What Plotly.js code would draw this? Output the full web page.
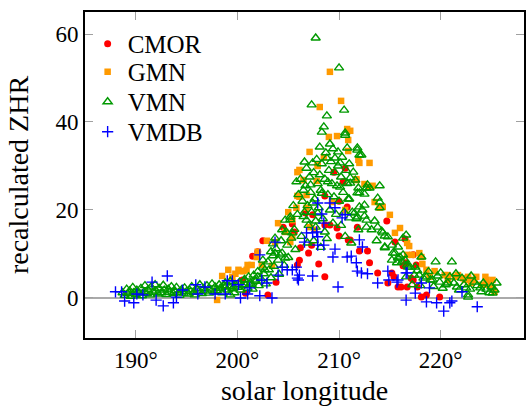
<!DOCTYPE html>
<html>
<head>
<meta charset="utf-8">
<script src="https://cdn.plot.ly/plotly-3.0.1.min.js"></script>
<style>html,body{margin:0;padding:0;background:#fff;}#chart{width:527px;height:406px;}</style>
</head>
<body>
<div id="chart"></div>
<script>
// ---- data (solar longitude in degrees, recalculated ZHR) ----
const seriesNames = ['CMOR', 'GMN', 'VMN', 'VMDB'];

const cmorX = [201.5,202.0,202.5,200.8,203.0,203.8,200.5,204.5,205.4,205.6,205.9,206.2,206.7,207.0,207.3,207.4,208.0,208.6,208.6,209.1,209.5,209.8,210.0,210.0,210.4,210.6,210.8,210.9,211.1,211.8,212.0,212.8,213.0,213.8,214.7,214.8,215.2,215.4,215.5,215.8,216.1,216.3,216.5,216.6,216.7,217.1,217.3,217.3,217.6,217.7,218.1,218.6,219.9,208.6,206.1];
const cmorY = [9.5,10.5,13.0,1.1,0.7,3.6,4.1,16.1,16.8,15.0,7.5,11.4,19.3,10.2,12.0,18.9,7.7,23.2,16.6,16.6,28.6,15.9,14.1,22.0,26.4,29.5,20.7,13.2,13.2,16.1,10.7,10.7,8.0,5.7,17.5,3.4,5.7,4.8,12.7,2.5,2.5,7.3,13.4,8.0,2.5,4.5,9.8,4.1,7.5,2.5,0.2,0.7,0.2,4.8,8.6];

const gmnX = [198.0,198.5,199.1,199.5,199.8,200.1,200.3,200.6,200.9,201.0,201.4,201.9,202.0,202.4,202.9,203.4,203.7,204.0,204.7,205.0,205.2,205.4,205.4,205.8,205.9,205.9,206.1,206.1,206.5,206.8,206.8,207.1,207.1,207.6,207.8,207.9,207.9,208.1,208.5,209.0,209.1,209.3,209.8,210.2,210.6,210.8,210.9,210.9,211.1,211.7,211.7,211.9,212.0,212.5,213.0,213.0,213.3,213.5,214.0,214.3,215.0,215.5,216.0,216.7,216.7,216.9,217.2,217.9,218.1,218.2,218.6,218.9,219.4,220.4,220.7,220.7,221.4,221.7,222.2,222.4,222.7,223.0,223.3,223.5,224.0,224.4,224.5,224.6,225.1,225.1,225.3];
const gmnY = [-0.45,5.0,6.4,4.8,5.5,6.4,6.1,6.1,6.4,7.5,7.5,9.3,10.5,7.5,13.0,7.3,12.7,17.0,15.0,19.5,12.7,17.7,13.9,20.5,28.6,23.2,29.1,23.0,26.8,23.4,20.5,33.2,16.1,15.5,26.6,30.2,30.0,43.4,32.0,36.6,51.4,21.8,36.8,44.8,20.0,38.4,35.9,33.4,38.0,27.0,26.8,31.4,30.7,25.9,30.7,25.2,25.5,21.8,20.5,20.7,18.9,14.8,15.9,12.5,9.8,11.8,9.8,10.2,9.3,7.7,6.4,4.8,6.1,5.2,5.2,4.1,4.8,5.2,4.5,4.1,4.8,3.4,4.1,4.8,3.0,4.8,4.1,3.0,4.1,2.3,1.4];

const vmnX = [188.7,188.9,189.1,189.2,189.4,189.5,189.7,189.8,190.0,190.1,190.3,190.5,190.6,190.8,190.9,191.1,191.2,191.4,191.5,191.7,191.9,192.0,192.2,192.3,192.5,192.7,192.8,193.0,193.2,193.3,193.5,193.7,193.8,194.0,194.2,194.3,194.5,194.7,194.8,195.0,195.2,195.3,195.5,195.7,195.8,196.0,196.2,196.3,196.5,196.7,196.8,197.0,197.2,197.3,197.5,197.7,197.8,198.0,198.2,198.3,198.5,198.7,198.8,199.0,199.2,199.3,199.5,199.7,199.8,200.0,
200.2,200.3,200.5,200.7,200.8,201.0,201.1,201.3,201.5,201.6,201.8,202.0,202.1,202.3,202.5,202.6,202.8,203.0,203.1,203.3,203.5,203.6,203.8,204.0,204.1,204.3,204.4,204.6,204.8,204.9,205.0,205.2,205.3,205.5,205.6,205.7,205.8,205.9,206.0,
205.2,204.7,204.4,205.4,203.7,203.5,203.3,203.7,204.2,204.7,202.5,202.7,202.0,201.7,201.4,200.7,199.6,199.3,198.8,
207.7,210.0,207.3,210.5,208.8,208.5,208.3,210.6,208.1,209.1,209.4,209.9,210.8,206.6,207.4,208.8,209.6,210.1,211.8,212.2,
206.2,206.4,206.5,206.7,206.8,206.9,207.0,207.1,207.2,207.3,207.5,207.6,207.7,207.8,207.9,208.0,208.1,208.2,208.3,208.4,208.6,208.7,208.9,209.0,209.1,209.2,209.3,209.5,209.6,209.7,209.8,209.9,210.0,210.2,210.3,210.4,210.5,210.7,210.8,210.9,211.0,
206.5,207.2,208.3,208.9,210.1,211.1,211.8,212.8,213.8,214.0,212.5,211.3,211.8,212.7,213.2,213.8,214.3,214.8,215.2,215.8,214.5,215.3,215.8,216.2,216.7,217.0,217.5,218.1,219.5,221.1,217.9,218.6,219.2,219.9,220.7,221.6,222.7,223.9,224.5,225.0,225.1,225.5,206.6,207.4,207.9,206.8,207.7,208.6,
210.6,211.8,212.0,214.0,211.4,211.1,211.6,210.8,212.7,213.0,211.9,212.0,212.5,211.0,214.0,212.0,212.3,211.5,211.0,211.7,212.5,213.5,214.2,212.7,211.9,214.5,213.7,216.3,214.5,215.5,216.0,216.5,216.8,215.2,215.7,
216.6,216.3,216.6,217.4,218.3,219.0,220.0,220.5,221.3,222.1,222.5,223.3,224.0,225.3,222.7,
217.2,217.7,218.0,218.8,219.3,219.7,220.2,220.9,221.5,221.8,222.3,222.9,223.6,224.2,224.8,223.0,
206.3,206.9,207.5,208.2,208.8,209.4,210.2,210.6,211.2];
const vmnY = [1.2,0.6,2.0,1.0,1.6,0.4,2.4,1.2,0.8,1.8,1.1,2.2,0.5,1.4,2.8,1.0,1.9,0.7,2.5,1.3,3.0,1.6,0.9,2.2,1.2,2.9,1.8,0.8,2.0,1.3,2.6,1.0,1.7,2.4,1.2,0.6,1.9,1.1,2.3,1.5,0.9,1.8,2.6,1.3,0.7,2.1,1.5,3.0,1.0,2.2,1.6,2.8,1.1,2.0,3.2,1.4,2.5,1.7,3.0,2.2,1.2,2.8,3.4,1.8,2.6,3.8,2.1,1.2,3.0,2.4,
3.6,1.8,2.8,4.2,3.0,2.2,4.8,3.4,2.0,5.2,3.8,6.0,2.8,4.4,7.0,5.5,3.2,8.2,6.4,4.6,9.6,7.2,11.2,8.6,5.4,13.0,10.2,7.4,15.0,12.0,9.2,17.8,13.6,21.0,15.6,11.0,26.4,19.0,23.5,
18.4,17.7,15.5,14.8,13.6,12.3,10.5,10.2,9.8,9.1,8.6,6.4,4.8,4.1,3.0,4.1,2.3,0.7,2.5,
59.1,52.3,43.9,42.7,41.4,38.9,37.7,37.0,34.3,35.0,33.9,33.2,34.1,30.9,30.7,31.8,31.8,30.7,34.1,32.5,
27.0,22.0,18.5,25.5,29.5,21.0,16.5,27.5,24.0,19.5,28.5,22.5,17.5,31.5,26.0,20.5,28.0,24.5,30.5,18.0,27.0,33.0,23.5,29.0,20.0,31.0,26.0,23.0,28.5,19.0,25.5,30.0,22.0,27.5,32.0,24.0,19.5,29.0,26.0,22.5,30.5,
24.5,25.7,23.8,26.4,25.2,26.1,23.9,25.7,22.7,20.5,21.1,19.5,18.4,17.7,15.5,16.1,14.8,13.9,12.0,11.6,11.4,10.2,9.1,8.2,7.5,7.0,7.0,9.3,8.2,8.2,5.2,4.8,4.1,3.6,3.4,2.5,0.7,2.3,2.0,2.5,1.1,3.4,19.5,21.6,19.3,17.7,16.1,15.0,
37.5,33.6,32.5,25.5,28.6,27.3,26.8,26.1,25.0,25.0,25.0,23.9,23.6,22.5,21.8,20.7,20.0,19.3,18.2,18.0,18.6,17.5,15.2,16.1,15.5,14.1,13.0,13.6,11.6,10.2,9.3,8.6,7.0,8.6,8.0,
14.3,9.8,4.8,5.2,4.5,4.1,5.7,3.0,3.4,4.5,2.3,3.6,1.4,1.8,0.2,
3.0,6.2,2.8,6.0,2.6,5.0,2.2,4.8,5.5,1.8,3.0,2.0,2.8,3.4,1.2,5.0,
14.0,12.5,13.0,11.5,13.5,17.0,16.5,14.0,12.5];

const vmdbX = [188.0,188.6,188.9,189.8,190.1,190.7,191.6,192.0,193.1,192.7,193.7,194.0,194.6,195.9,196.1,196.8,197.8,198.8,199.0,199.5,
200.1,200.3,201.2,201.0,202.2,202.2,202.4,202.9,203.4,203.7,204.0,204.4,204.9,205.4,205.8,205.9,
207.9,208.3,209.1,209.6,208.5,207.8,206.8,207.4,206.6,207.9,207.9,208.5,209.6,209.4,210.8,210.3,210.6,207.4,206.1,206.0,209.9,
212.0,212.3,211.2,211.7,211.8,212.2,212.8,213.8,214.8,214.9,215.7,215.8,216.6,216.6,
216.7,217.5,218.1,218.6,218.9,219.6,220.3,220.9,221.1,222.1,223.6];
const vmdbY = [1.4,1.4,-0.7,-1.1,0.9,0.7,3.6,-0.5,5.0,-1.8,-1.1,0.2,1.8,3.0,0.9,2.5,0.9,0.9,3.9,3.9,
3.0,0.0,2.3,0.9,0.5,9.8,4.1,3.4,0.0,12.7,5.2,7.0,6.4,6.4,7.0,4.5,
21.6,19.1,21.6,20.5,17.0,15.0,14.8,14.8,12.7,13.9,12.0,12.0,11.1,9.3,9.3,18.2,18.9,5.0,5.2,4.1,2.5,
13.2,11.6,9.5,8.0,6.1,5.7,5.5,3.4,6.1,4.1,3.6,4.1,5.7,-0.5,
5.7,1.1,3.4,-0.9,2.3,-1.1,-3.0,-1.1,-0.7,1.4,-2.0];

// ---- axis ticks ----
const xTickVals = [190, 200, 210, 220];
const xTickText = ['190°', '200°', '210°', '220°'];
const yTickVals = [0, 20, 40, 60];
const yTickText = ['0', '20', '40', '60'];

const FONT = 'Liberation Serif, Times New Roman, serif';

const traces = [
  {x: cmorX, y: cmorY, name: seriesNames[0], type: 'scatter', mode: 'markers', legend: 'legend',
   marker: {symbol: 'circle', size: 7, color: '#ff0000', line: {width: 0}}},
  {x: gmnX, y: gmnY, name: seriesNames[1], type: 'scatter', mode: 'markers', legend: 'legend2',
   marker: {symbol: 'square', size: 6.5, color: '#ff9a00', line: {width: 0}}},
  {x: vmnX, y: vmnY, name: seriesNames[2], type: 'scatter', mode: 'markers', legend: 'legend3',
   marker: {symbol: 'triangle-up-open', size: 8, color: '#009900', line: {width: 1.4, color: '#009900'}}},
  {x: vmdbX, y: vmdbY, name: seriesNames[3], type: 'scatter', mode: 'markers', legend: 'legend4',
   marker: {symbol: 'cross-thin-open', size: 8, color: '#0000ff', line: {width: 1.4, color: '#0000ff'}}}
];

function legendAt(yc) {
  return {x: 0.006, y: yc, xanchor: 'left', yanchor: 'middle', bgcolor: 'rgba(0,0,0,0)',
          font: {family: FONT, size: 25, color: '#000'}, itemwidth: 30};
}

const layout = {
  width: 527, height: 406,
  margin: {l: 85, r: 3, t: 12, b: 68},
  paper_bgcolor: '#ffffff', plot_bgcolor: '#ffffff',
  font: {family: FONT, size: 23, color: '#000'},
  showlegend: true,
  legend: legendAt(0.902),
  legend2: legendAt(0.816),
  legend3: legendAt(0.724),
  legend4: legendAt(0.632),
  xaxis: {
    range: [185.0, 228.2], tickvals: xTickVals, ticktext: xTickText,
    ticks: 'inside', ticklen: 8, tickwidth: 1, tickcolor: '#a0a0a0',
    showline: true, linecolor: '#000', linewidth: 2, mirror: 'ticks',
    showgrid: false, zeroline: false,
    tickfont: {family: FONT, size: 23, color: '#000'},
    title: {text: 'solar longitude', font: {family: FONT, size: 28, color: '#000'}, standoff: 12}
  },
  yaxis: {
    range: [-9.1, 65], tickvals: yTickVals, ticktext: yTickText,
    ticks: 'inside', ticklen: 8, tickwidth: 1, tickcolor: '#a0a0a0',
    showline: true, linecolor: '#000', linewidth: 2, mirror: 'ticks',
    showgrid: false, zeroline: true, zerolinecolor: '#aaaaaa', zerolinewidth: 1.5,
    tickfont: {family: FONT, size: 23, color: '#000'},
    title: {text: 'recalculated ZHR', font: {family: FONT, size: 28, color: '#000'}, standoff: 19}
  }
};

Plotly.newPlot('chart', traces, layout, {displayModeBar: false, staticPlot: true});
</script>
</body>
</html>
